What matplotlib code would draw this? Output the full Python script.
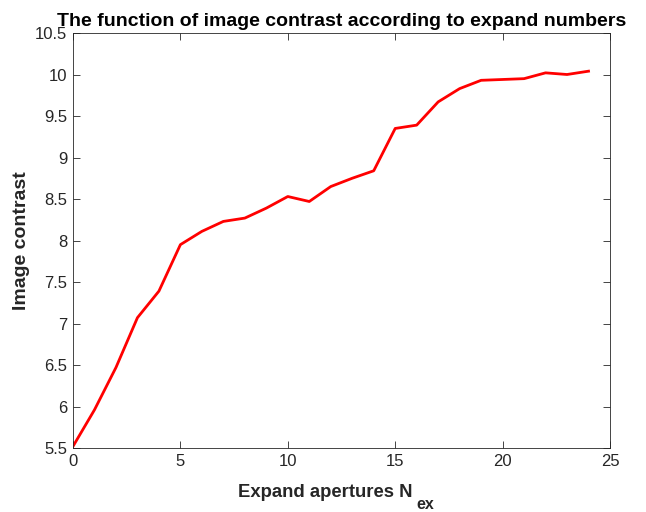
import matplotlib
matplotlib.use("Agg")
import matplotlib.pyplot as plt

# expand numbers and measured image contrast
n_ex = list(range(25))
contrast = [5.52, 5.96, 6.47, 7.07, 7.39, 7.95, 8.11, 8.23, 8.27, 8.39,
            8.53, 8.47, 8.65, 8.75, 8.84, 9.35, 9.39, 9.67, 9.83, 9.93,
            9.94, 9.95, 10.02, 10.00, 10.04]

x_ticks = [0, 5, 10, 15, 20, 25]
y_ticks = [5.5, 6, 6.5, 7, 7.5, 8, 8.5, 9, 9.5, 10, 10.5]
y_labels = ["5.5", "6", "6.5", "7", "7.5", "8", "8.5", "9", "9.5", "10", "10.5"]

plt.rcParams["font.family"] = ["Liberation Sans", "DejaVu Sans"]
axis_color = "#262626"

fig = plt.figure(figsize=(6.46, 5.12), dpi=100)
ax = fig.add_axes([73 / 646, 64 / 512, 537 / 646, 415 / 512])

ax.plot(n_ex, contrast, color="#ff0000", linewidth=2)

ax.set_xlim(0, 25)
ax.set_ylim(5.5, 10.5)
ax.set_xticks(x_ticks)
ax.set_yticks(y_ticks)
ax.set_yticklabels(y_labels)
ax.tick_params(direction="in", top=True, right=True, labelsize=12,
               colors=axis_color, length=5, width=0.6, pad=4)
for spine in ax.spines.values():
    spine.set_color(axis_color)
    spine.set_linewidth(0.6)

ax.set_title("The function of image contrast according to expand numbers",
             fontsize=14, fontweight="bold", color="black", pad=5)

# x label with a dropped subscript, MATLAB style
ax.set_xlabel("Expand apertures N", fontsize=13.3, fontweight="bold",
              color=axis_color)
ax.xaxis.set_label_coords(0.47, -0.086, transform=ax.transAxes)
ax.xaxis.label.set_va("top")
ax.annotate("ex", xy=(1, 0), xycoords=ax.xaxis.label, xytext=(3, -3),
            textcoords="offset points", fontsize=11.5, fontweight="bold",
            color=axis_color, ha="left", va="center")

ax.set_ylabel("Image contrast", fontsize=14, fontweight="bold", color=axis_color)

fig.savefig("out.png", dpi=100)
